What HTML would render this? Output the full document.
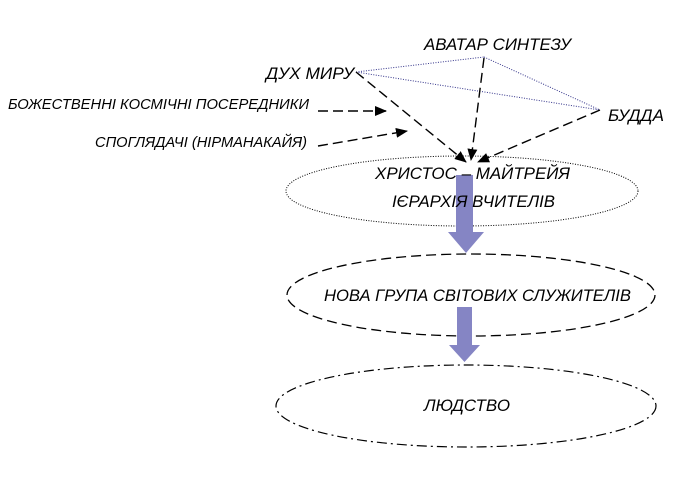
<!DOCTYPE html>
<html><head><meta charset="utf-8"><style>
html,body{margin:0;padding:0;background:#fff;}
svg text{font-family:"Liberation Sans",Arial,sans-serif;font-style:italic;fill:#000;}
</style></head><body>
<svg width="691" height="476" viewBox="0 0 691 476" xmlns="http://www.w3.org/2000/svg">
<defs>
<marker id="ah" markerWidth="12" markerHeight="10" refX="11" refY="5" orient="auto" markerUnits="userSpaceOnUse">
<path d="M0,0 L12,5 L0,10 Z" fill="#000"/></marker>
</defs>
<rect width="691" height="476" fill="#fff"/>
<ellipse cx="462" cy="191" rx="176" ry="35" fill="none" stroke="#000" stroke-width="1" stroke-dasharray="1,1.5"/>
<ellipse cx="471" cy="295" rx="184" ry="41" fill="none" stroke="#000" stroke-width="1.3" stroke-dasharray="10,5"/>
<ellipse cx="466" cy="406" rx="190" ry="41" fill="none" stroke="#000" stroke-width="1.2" stroke-dasharray="10,4,2,4"/>
<g stroke="#33338a" stroke-width="1" stroke-dasharray="1,1.5" fill="none">
<line x1="356" y1="72" x2="484" y2="57"/>
<line x1="484" y1="57" x2="600" y2="110"/>
<line x1="356" y1="72" x2="600" y2="110"/>
</g>
<g stroke="#000" stroke-width="1.4" stroke-dasharray="10,5" fill="none" marker-end="url(#ah)">
<line x1="356" y1="72" x2="466" y2="162"/>
<line x1="484" y1="58" x2="471" y2="160"/>
<line x1="600" y1="110" x2="478" y2="162"/>
<line x1="318" y1="111" x2="386" y2="111"/>
<line x1="318" y1="146" x2="407" y2="131"/>
</g>
<g fill="#8585c4">
<rect x="456" y="175" width="17" height="58"/>
<path d="M448,232 L484,232 L466,253 Z"/>
<rect x="457" y="307" width="15" height="39"/>
<path d="M449,345 L480,345 L464.5,362 Z"/>
</g>
<text x="424" y="50" font-size="17" textLength="147" lengthAdjust="spacingAndGlyphs">АВАТАР СИНТЕЗУ</text>
<text x="266" y="79" font-size="17" textLength="88" lengthAdjust="spacingAndGlyphs">ДУХ МИРУ</text>
<text x="608" y="121" font-size="17" textLength="56" lengthAdjust="spacingAndGlyphs">БУДДА</text>
<text x="8" y="109" font-size="14.5" textLength="301" lengthAdjust="spacingAndGlyphs">БОЖЕСТВЕННІ КОСМІЧНІ ПОСЕРЕДНИКИ</text>
<text x="95" y="147" font-size="14.5" textLength="212" lengthAdjust="spacingAndGlyphs">СПОГЛЯДАЧІ (НІРМАНАКАЙЯ)</text>
<text x="375" y="179" font-size="17" textLength="195" lengthAdjust="spacingAndGlyphs">ХРИСТОС – МАЙТРЕЙЯ</text>
<text x="392" y="207" font-size="17" textLength="163" lengthAdjust="spacingAndGlyphs">ІЄРАРХІЯ ВЧИТЕЛІВ</text>
<text x="324" y="301" font-size="17" textLength="307" lengthAdjust="spacingAndGlyphs">НОВА ГРУПА СВІТОВИХ СЛУЖИТЕЛІВ</text>
<text x="424" y="411" font-size="17" textLength="86" lengthAdjust="spacingAndGlyphs">ЛЮДСТВО</text>
</svg>
</body></html>
